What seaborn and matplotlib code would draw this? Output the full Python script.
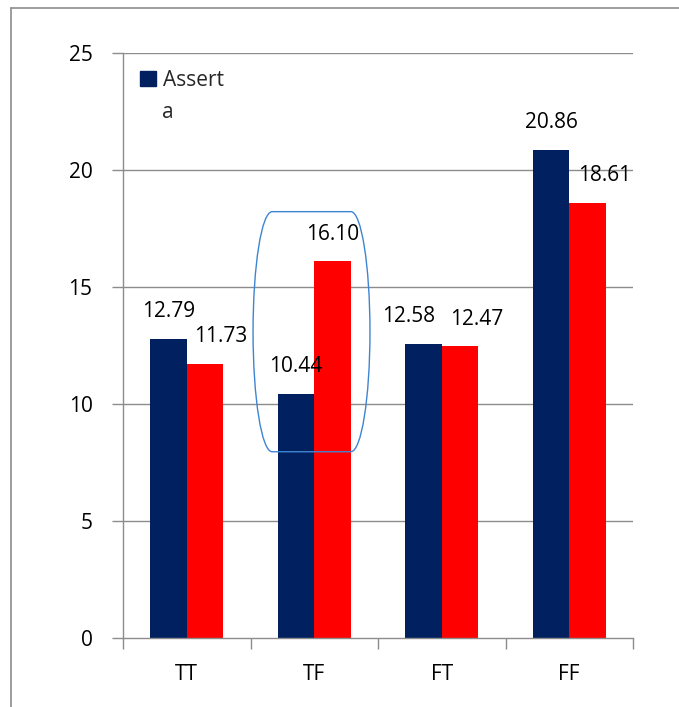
import matplotlib
matplotlib.use("Agg")
import matplotlib.pyplot as plt
import seaborn as sns
import pandas as pd
from matplotlib.path import Path
from matplotlib.patches import PathPatch, Patch
from matplotlib.lines import Line2D

# ---- data ----
categories = ["TT", "TF", "FT", "FF"]
series_names = ["Asserta", "Other"]
asserta_values = [12.79, 10.44, 12.58, 20.86]
other_values = [11.73, 16.10, 12.47, 18.61]
y_ticks = [0, 5, 10, 15, 20, 25]

# label x-shifts (pixels) to mimic the reference label placement
navy_dx = [0, 0, -15, 0]
red_dx = [16, 0, 17, 17]

colors = ["#002060", "#FF0000"]
grid_color = "#8C8C8C"

df = pd.DataFrame({
    "cat": categories * 2,
    "series": [series_names[0]] * 4 + [series_names[1]] * 4,
    "value": asserta_values + other_values,
})

sns.set_theme(style="white")
plt.rcParams["font.family"] = ["Open Sans", "DejaVu Sans"]

W, H = 679, 707
fig = plt.figure(figsize=(W / 100, H / 100), dpi=100)
ax = fig.add_axes([123 / W, (H - 638) / H, 510 / W, 585 / H])

sns.barplot(data=df, x="cat", y="value", hue="series", order=categories,
            hue_order=series_names, palette=colors, width=0.57,
            linewidth=0, saturation=1, legend=False, ax=ax, zorder=3)

ax.set_xlim(-0.5, len(categories) - 0.5)
ax.set_ylim(0, 25)
ax.set_yticks(y_ticks)
ax.set_yticklabels([str(t) for t in y_ticks])
ax.set_xlabel("")
ax.set_ylabel("")

# gridlines
for t in y_ticks[1:]:
    ax.axhline(t, color=grid_color, lw=1.0, zorder=1)

for s in ["top", "right"]:
    ax.spines[s].set_visible(False)
for s in ["left", "bottom"]:
    ax.spines[s].set_color(grid_color)
    ax.spines[s].set_linewidth(1.0)
    ax.spines[s].set_zorder(4)

ax.tick_params(axis="y", direction="out", length=8, width=1.0, color=grid_color,
               labelsize=15, pad=14, left=True, labelcolor="black")
ax.set_xticks(range(len(categories)))
ax.set_xticklabels(categories)
ax.tick_params(axis="x", which="major", length=0, labelsize=15, pad=19, labelcolor="black")
ax.set_xticks([i - 0.5 for i in range(len(categories) + 1)], minor=True)
ax.tick_params(axis="x", which="minor", direction="out", length=8, width=1.0,
               color=grid_color, bottom=True)

# value labels
bars = ax.patches
n = len(categories)
for i, b in enumerate(bars[:2 * n]):
    series_idx = i // n
    cat_idx = i % n
    val = b.get_height()
    dx = navy_dx[cat_idx] if series_idx == 0 else red_dx[cat_idx]
    ax.annotate(f"{val:.2f}", (b.get_x() + b.get_width() / 2, val),
                xytext=(dx, 27), textcoords="offset pixels",
                ha="center", va="center", fontsize=15, color="black", zorder=5)

# legend (only first series, label wraps)
leg = ax.legend(handles=[Patch(color=colors[0], label="Assert")],
                loc="upper left", bbox_to_anchor=(17 / 510, 1 - 17 / 585),
                frameon=False, fontsize=15, handlelength=0.75, handleheight=0.75,
                handletextpad=0.35, borderpad=0, borderaxespad=0)
ax.text(162, 113, "a", transform=None, fontsize=15, va="center", ha="left")
# place "a" in figure pixel coordinates (origin bottom-left)
ax.texts[-1].remove()
fig.text(162 / W, 1 - 113 / H, "a", fontsize=15, va="center", ha="left")

# highlight shape around TF (rounded box with elliptical sides)
hx0, hx1 = 1 - 0.48, 1 + 0.437
hy0, hy1 = 7.96, 18.22
rx = 0.15
ry = (hy1 - hy0) / 2
k = 0.5523
verts = [
    (hx0 + rx, hy1), (hx1 - rx, hy1),
    (hx1 - rx + k * rx, hy1), (hx1, hy1 - ry + k * ry), (hx1, hy1 - ry),
    (hx1, hy1 - ry - k * ry), (hx1 - rx + k * rx, hy0), (hx1 - rx, hy0),
    (hx0 + rx, hy0),
    (hx0 + rx - k * rx, hy0), (hx0, hy0 + ry - k * ry), (hx0, hy0 + ry),
    (hx0, hy0 + ry + k * ry), (hx0 + rx - k * rx, hy1), (hx0 + rx, hy1),
    (hx0 + rx, hy1),
]
codes = [Path.MOVETO, Path.LINETO,
         Path.CURVE4, Path.CURVE4, Path.CURVE4,
         Path.CURVE4, Path.CURVE4, Path.CURVE4,
         Path.LINETO,
         Path.CURVE4, Path.CURVE4, Path.CURVE4,
         Path.CURVE4, Path.CURVE4, Path.CURVE4,
         Path.CLOSEPOLY]
ax.add_patch(PathPatch(Path(verts, codes), facecolor="none", edgecolor="#3D85D1",
                       lw=1.0, zorder=6, clip_on=False))

# outer border (left and top visible)
fig.add_artist(Line2D([10.5 / W, 10.5 / W], [0, 1 - 7.5 / H], color="#8C8C8C", lw=1.2))
fig.add_artist(Line2D([10.5 / W, 1], [1 - 7.5 / H, 1 - 7.5 / H], color="#8C8C8C", lw=1.2))

fig.savefig("out.png", dpi=100, facecolor="white")
